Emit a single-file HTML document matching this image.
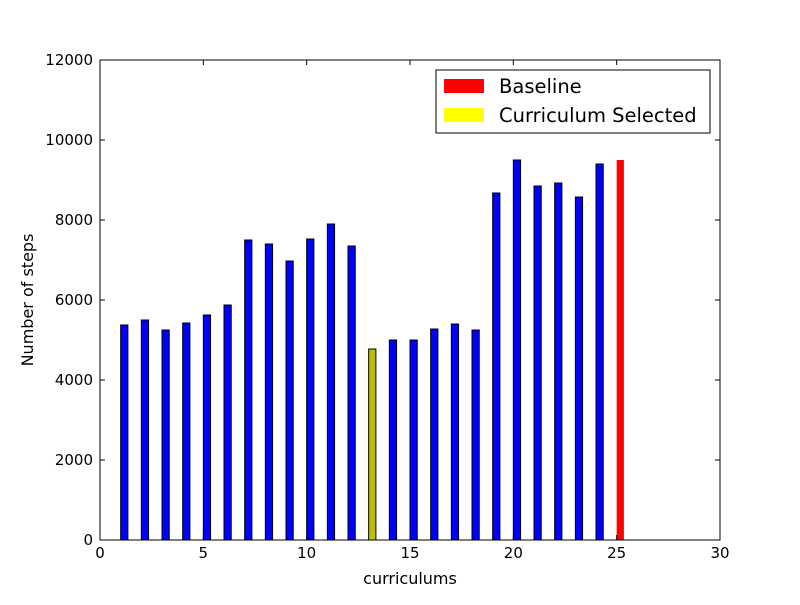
<!DOCTYPE html>
<html><head><meta charset="utf-8"><style>
body{margin:0;background:#fff;}
svg text{font-family:"DejaVu Sans","Liberation Sans",sans-serif;fill:#000;}
</style></head><body>
<svg id="chart" width="800" height="600">
<rect x="0" y="0" width="800" height="600" fill="#fff"/>
<g id="bars"></g>
<rect x="100" y="60" width="620" height="480" fill="none" stroke="#000" stroke-width="1"/>
<g id="ticks"></g>
<text x="410" y="584" font-size="16" text-anchor="middle">curriculums</text>
<text x="33" y="300" font-size="16" text-anchor="middle" transform="rotate(-90 33 300)">Number of steps</text>
<g>
<rect x="436" y="70" width="274" height="63" fill="#fff" stroke="#000"/>
<rect x="444" y="79" width="40" height="14" fill="#ff0000"/>
<text x="499" y="93" font-size="19.5">Baseline</text>
<rect x="444" y="108" width="40" height="14" fill="#ffff00"/>
<text x="499" y="122" font-size="19.5">Curriculum Selected</text>
</g>
</svg>
<script>
const categories=[1,2,3,4,5,6,7,8,9,10,11,12,13,14,15,16,17,18,19,20,21,22,23,24,25];
const values=[5375,5500,5250,5425,5625,5875,7500,7400,6975,7525,7900,7350,4775,5000,5000,5275,5400,5250,8675,9500,8850,8925,8575,9400,9500];
const selectedIndex=12;
const baselineIndex=24;
const xTicks=[0,5,10,15,20,25,30];
const yTicks=[0,2000,4000,6000,8000,10000,12000];
const NS="http://www.w3.org/2000/svg";
const x=v=>100+v*(620/30);
const y=v=>540-v*(480/12000);
const bars=document.getElementById('bars');
categories.forEach((c,i)=>{
  const r=document.createElementNS(NS,'rect');
  const col=i===baselineIndex?'#ff0000':(i===selectedIndex?'#bfbf00':'#0000ff');
  r.setAttribute('x',x(c));r.setAttribute('y',y(values[i]));
  r.setAttribute('width',x(c+0.35)-x(c));r.setAttribute('height',y(0)-y(values[i]));
  r.setAttribute('fill',col);
  if(i!==baselineIndex){r.setAttribute('stroke','#000');r.setAttribute('stroke-width','1');}
  
  
  bars.appendChild(r);
});
const t=document.getElementById('ticks');
xTicks.forEach(v=>{
  const l=document.createElementNS(NS,'path');
  l.setAttribute('d',`M${x(v)},540v-5M${x(v)},60v5`);l.setAttribute('stroke','#000');
  
  
  t.appendChild(l);
  const tx=document.createElementNS(NS,'text');
  tx.setAttribute('x',x(v));tx.setAttribute('y',558);tx.setAttribute('font-size','15');tx.setAttribute('text-anchor','middle');
  tx.textContent=v;
  
  
  t.appendChild(tx);
});
yTicks.forEach(v=>{
  const l=document.createElementNS(NS,'path');
  l.setAttribute('d',`M100,${y(v)}h5M720,${y(v)}h-5`);l.setAttribute('stroke','#000');
  
  
  t.appendChild(l);
  const tx=document.createElementNS(NS,'text');
  tx.setAttribute('x',93);tx.setAttribute('y',y(v)+5);tx.setAttribute('font-size','15');tx.setAttribute('text-anchor','end');
  tx.textContent=v;
  
  
  t.appendChild(tx);
});
</script>
</body></html>
